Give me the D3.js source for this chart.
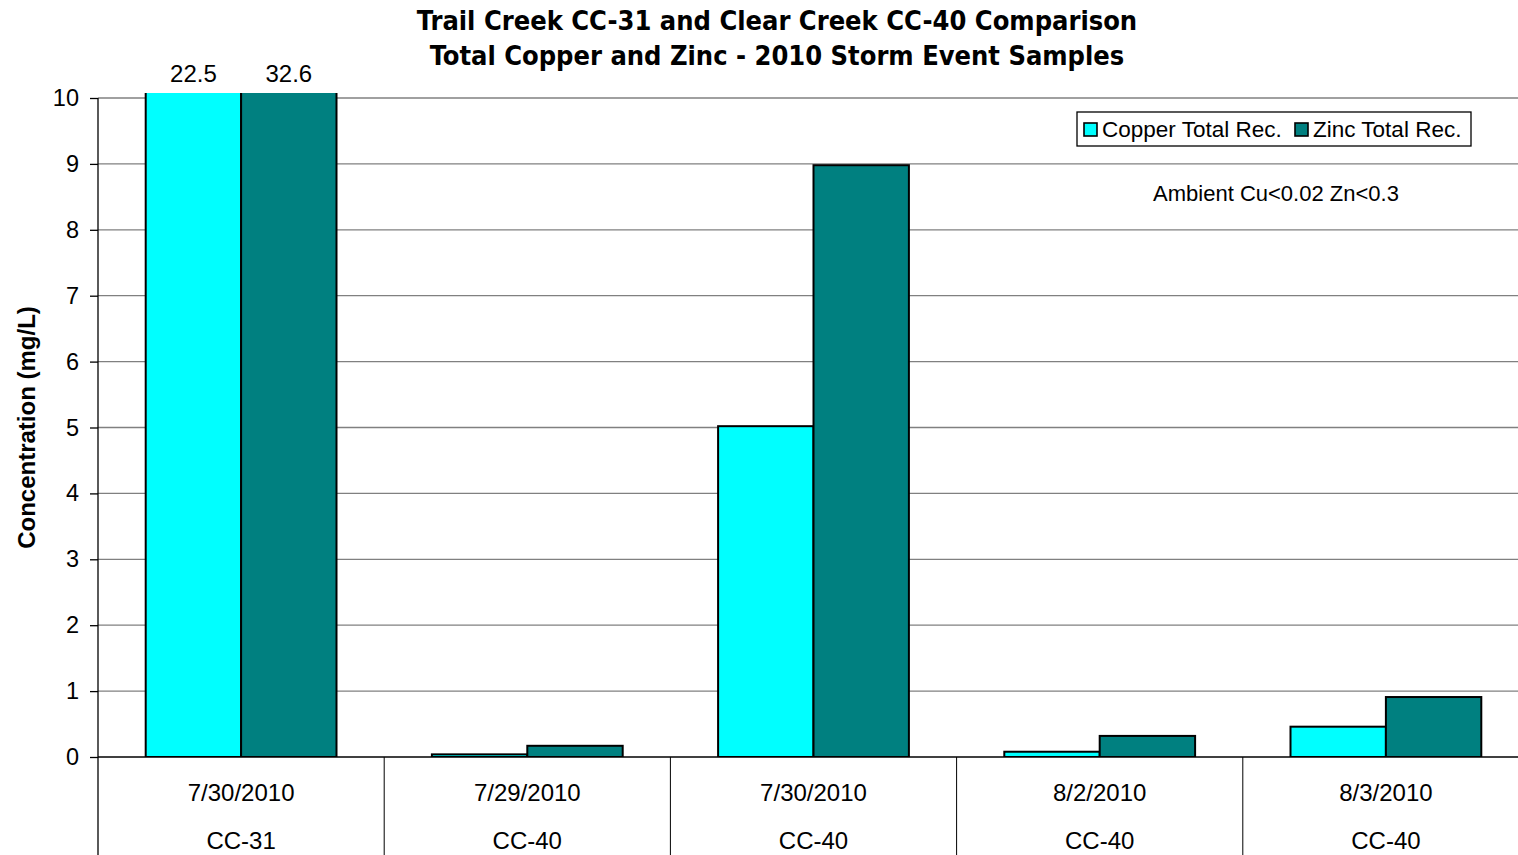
<!DOCTYPE html>
<html>
<head>
<meta charset="utf-8">
<script src="https://cdn.jsdelivr.net/npm/d3@7/dist/d3.min.js"></script>
<style>
  html, body { margin: 0; padding: 0; background: #fff; overflow: hidden; }
  svg { display: block; }
</style>
</head>
<body>
<svg id="chart" width="1518" height="855"></svg>
<script>
// Sampling events (two-level category axis: date over station)
const dates = ["7/30/2010", "7/29/2010", "7/30/2010", "8/2/2010", "8/3/2010"];
const sites = ["CC-31", "CC-40", "CC-40", "CC-40", "CC-40"];

// Total recoverable concentrations, mg/L
const seriesNames = ["Copper Total Rec.", "Zinc Total Rec."];
const copper = [22.5, 0.04, 5.02, 0.08, 0.46];
const zinc = [32.6, 0.17, 8.98, 0.32, 0.91];
const seriesColors = ["#00FFFF", "#008080"];

// Values above the axis maximum are labelled
const labelThreshold = 10;

const yTicks = [0, 1, 2, 3, 4, 5, 6, 7, 8, 9, 10];

const titleLines = [
  "Trail Creek CC-31 and Clear Creek CC-40 Comparison",
  "Total Copper and Zinc - 2010 Storm Event Samples"
];
const yTitle = "Concentration (mg/L)";
const note = "Ambient Cu<0.02 Zn<0.3";

const svg = d3.select("#chart");
const plot = { left: 98, right: 1529, top: 98, bottom: 757, clipTop: 93 };

const keys = dates.map((d, i) => i);
const x0 = d3.scaleBand().domain(keys).range([plot.left, plot.right]).padding(0);
const x1 = d3.scaleBand().domain([0, 1]).range([0, x0.bandwidth()])
  .paddingInner(0).paddingOuter(0.5);
const y = d3.scaleLinear().domain([0, 10]).range([plot.bottom, plot.top]);

const font = "'Liberation Sans', Arial, sans-serif";

// Horizontal gridlines
svg.append("g")
  .selectAll("line")
  .data(yTicks.filter(t => t > 0))
  .join("line")
  .attr("x1", plot.left).attr("x2", plot.right)
  .attr("y1", d => y(d)).attr("y2", d => y(d))
  .attr("stroke", "#808080").attr("stroke-width", 1.3);

// Bars, clipped to the plot area
svg.append("clipPath").attr("id", "plotClip")
  .append("rect")
  .attr("x", plot.left).attr("y", plot.clipTop)
  .attr("width", plot.right - plot.left)
  .attr("height", plot.bottom - plot.clipTop);

const rows = keys.map(i => ({ i, values: [copper[i], zinc[i]] }));

const groups = svg.append("g").attr("clip-path", "url(#plotClip)")
  .selectAll("g")
  .data(rows)
  .join("g")
  .attr("transform", d => `translate(${x0(d.i)},0)`);

groups.selectAll("rect")
  .data(d => d.values.map((v, s) => ({ v, s })))
  .join("rect")
  .attr("x", d => x1(d.s))
  .attr("width", x1.bandwidth())
  .attr("y", d => y(d.v))
  .attr("height", d => y(0) - y(d.v))
  .attr("fill", d => seriesColors[d.s])
  .attr("stroke", "#000")
  .attr("stroke-width", 2);

// Value labels for bars exceeding the axis range
svg.append("g")
  .selectAll("text")
  .data(rows.flatMap(r => r.values.map((v, s) => ({ i: r.i, v, s }))).filter(d => d.v > labelThreshold))
  .join("text")
  .attr("x", d => x0(d.i) + x1(d.s) + x1.bandwidth() / 2)
  .attr("y", 82)
  .attr("text-anchor", "middle")
  .attr("font-family", font)
  .attr("font-size", 24)
  .text(d => d3.format(".1f")(d.v));

// Y axis
const yAxis = svg.append("g")
  .attr("transform", `translate(${plot.left},0)`)
  .call(d3.axisLeft(y).tickValues(yTicks).tickSize(8).tickPadding(11).tickFormat(d3.format("d")));
yAxis.select(".domain").remove();
yAxis.selectAll(".tick line").attr("stroke", "#000").attr("stroke-width", 1.3);
yAxis.selectAll(".tick text")
  .attr("font-family", font).attr("font-size", 23.5).attr("fill", "#000");
svg.append("line")
  .attr("x1", plot.left).attr("x2", plot.left)
  .attr("y1", plot.top).attr("y2", 855)
  .attr("stroke", "#000").attr("stroke-width", 1.3);

// Category axis baseline and group separators
svg.append("line")
  .attr("x1", plot.left).attr("x2", plot.right)
  .attr("y1", y(0)).attr("y2", y(0))
  .attr("stroke", "#000").attr("stroke-width", 1.5);

svg.append("g")
  .selectAll("line")
  .data(keys.slice(1))
  .join("line")
  .attr("x1", d => x0(d)).attr("x2", d => x0(d))
  .attr("y1", y(0)).attr("y2", 855)
  .attr("stroke", "#000").attr("stroke-width", 1);

const catLabels = svg.append("g")
  .attr("font-family", font).attr("font-size", 24).attr("text-anchor", "middle");
catLabels.selectAll("text.date")
  .data(keys)
  .join("text").attr("class", "date")
  .attr("x", d => x0(d) + x0.bandwidth() / 2)
  .attr("y", 801)
  .text(d => dates[d]);
catLabels.selectAll("text.site")
  .data(keys)
  .join("text").attr("class", "site")
  .attr("x", d => x0(d) + x0.bandwidth() / 2)
  .attr("y", 849)
  .text(d => sites[d]);

// Axis title
svg.append("text")
  .attr("transform", `translate(35,${(plot.top + plot.bottom) / 2}) rotate(-90)`)
  .attr("text-anchor", "middle")
  .attr("font-family", font).attr("font-size", 24).attr("font-weight", "bold")
  .text(yTitle);

// Chart title
svg.append("g")
  .attr("font-family", "'DejaVu Sans Condensed', 'DejaVu Sans', sans-serif")
  .attr("font-weight", "bold").attr("font-size", 27).attr("text-anchor", "middle")
  .selectAll("text")
  .data(titleLines)
  .join("text")
  .attr("x", 777)
  .attr("y", (d, i) => 30 + i * 35)
  .text(d => d);

// Legend
const legend = svg.append("g").attr("transform", "translate(1077,112)");
legend.append("rect")
  .attr("width", 394).attr("height", 34)
  .attr("fill", "#fff").attr("stroke", "#000").attr("stroke-width", 1.3);
const legendX = [7, 218];
const items = legend.selectAll("g.item")
  .data(seriesNames)
  .join("g").attr("class", "item")
  .attr("transform", (d, i) => `translate(${legendX[i]},0)`);
items.append("rect")
  .attr("x", 0).attr("y", 11).attr("width", 13).attr("height", 13)
  .attr("fill", (d, i) => seriesColors[i]).attr("stroke", "#000").attr("stroke-width", 1.6);
items.append("text")
  .attr("x", 18).attr("y", 25)
  .attr("font-family", font).attr("font-size", 22.5)
  .text(d => d);

// Ambient note
svg.append("text")
  .attr("x", 1276).attr("y", 201)
  .attr("text-anchor", "middle")
  .attr("font-family", font).attr("font-size", 22)
  .text(note);
</script>
</body>
</html>
